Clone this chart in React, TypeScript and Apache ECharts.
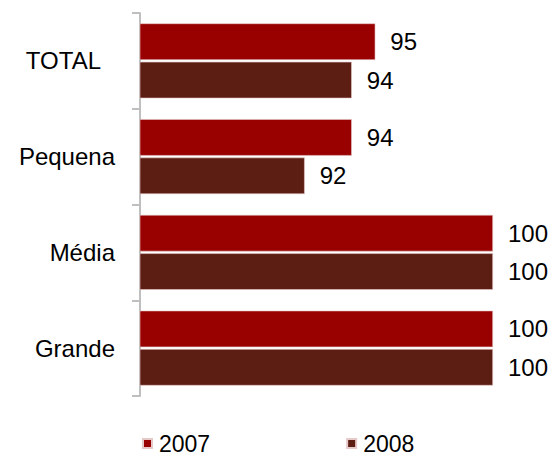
import React, { useEffect, useRef } from "react";
import * as echarts from "echarts";

const categories = ["TOTAL", "Pequena", "Média", "Grande"];
const series2007 = [95, 94, 100, 100];
const series2008 = [94, 92, 100, 100];
const seriesNames = ["2007", "2008"];

const FONT = "'Liberation Sans', Arial, sans-serif";

export default function App() {
  const ref = useRef<HTMLDivElement>(null);
  useEffect(() => {
    if (!ref.current) return;
    const chart = echarts.init(ref.current, null, { renderer: "svg" });
    const labelStyle = {
      show: true,
      position: "right" as const,
      distance: 15,
      color: "#000",
      fontSize: 24,
      fontFamily: FONT,
    };
    chart.setOption({
      animation: false,
      backgroundColor: "#fff",
      grid: { left: 140, right: 63, top: 13, bottom: 56, containLabel: false },
      xAxis: {
        type: "value",
        min: 85,
        max: 100,
        show: false,
      },
      yAxis: {
        type: "category",
        data: categories,
        inverse: true,
        axisLine: { show: true, lineStyle: { color: "#BFBFBF", width: 2 } },
        axisTick: { show: true, length: 8, lineStyle: { color: "#BFBFBF", width: 2 } },
        axisLabel: {
          margin: 25,
          color: "#000",
          fontSize: 24,
          fontFamily: FONT,
          formatter: (v: string) => (v === "TOTAL" ? "{t|TOTAL}" : v),
          rich: {
            t: { fontSize: 24, fontFamily: FONT, color: "#000", padding: [0, 14, 0, 0] },
          },
        },
        splitLine: { show: false },
      },
      legend: {
        data: seriesNames,
        left: 137,
        top: 427,
        icon: "rect",
        itemWidth: 9,
        itemHeight: 9,
        itemGap: 136,
        textStyle: {
          fontSize: 23,
          lineHeight: 20,
          fontFamily: FONT,
          color: "#000",
          padding: [0, 0, 0, 2],
        },
      },
      series: [
        {
          name: seriesNames[0],
          type: "bar",
          data: series2007,
          barCategoryGap: "21.7%",
          barGap: "5%",
          itemStyle: { color: "#990000", borderColor: "#E6C9C9", borderWidth: 0.6 },
          label: labelStyle,
        },
        {
          name: seriesNames[1],
          type: "bar",
          data: series2008,
          barCategoryGap: "21.7%",
          barGap: "5%",
          itemStyle: { color: "#5C1D13", borderColor: "#E6C9C9", borderWidth: 0.6 },
          label: labelStyle,
        },
      ],
    });
    return () => chart.dispose();
  }, []);
  return (
    <div
      ref={ref}
      style={{ position: "fixed", left: 0, top: 0, width: 556, height: 452 }}
    />
  );
}
